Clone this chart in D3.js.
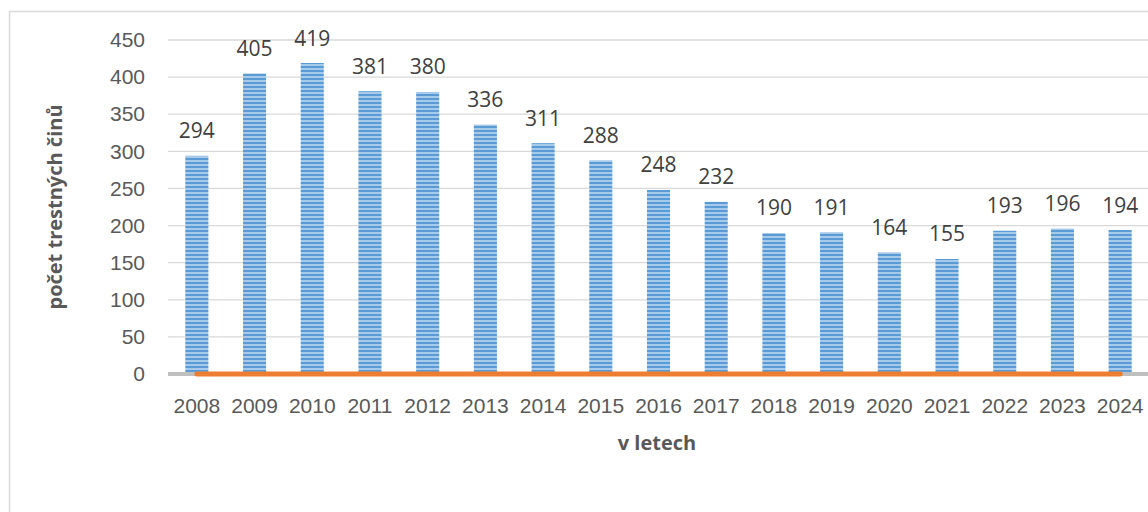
<!DOCTYPE html>
<html>
<head>
<meta charset="utf-8">
<script src="https://cdn.jsdelivr.net/npm/d3@7"></script>
<style>
  body { margin: 0; background: #fff; }
  svg { display: block; font-family: "Open Sans", sans-serif; }
</style>
</head>
<body>
<div id="chart"></div>
<script>
// data
const years = ["2008","2009","2010","2011","2012","2013","2014","2015","2016","2017","2018","2019","2020","2021","2022","2023","2024"];
const crimes = [294, 405, 419, 381, 380, 336, 311, 288, 248, 232, 190, 191, 164, 155, 193, 196, 194];
const baseline = [0,0,0,0,0,0,0,0,0,0,0,0,0,0,0,0,0];
const yTicks = [0, 50, 100, 150, 200, 250, 300, 350, 400, 450];

const W = 1148, H = 512;
const margin = { top: 40, right: -1, bottom: 138, left: 168 };
const width = W - margin.left - margin.right;
const height = H - margin.top - margin.bottom;

const svg = d3.select("#chart").append("svg")
  .attr("width", W)
  .attr("height", H);

// striped fill for bars
const defs = svg.append("defs");
const pat = defs.append("pattern")
  .attr("id", "stripes")
  .attr("patternUnits", "userSpaceOnUse")
  .attr("width", 8).attr("height", 4);
pat.append("rect").attr("width", 8).attr("height", 4).attr("fill", "#a7c9ea");
pat.append("rect").attr("y", 2).attr("width", 8).attr("height", 2).attr("fill", "#5b9bd5");

// chart border
svg.append("rect")
  .attr("x", 9.5).attr("y", 11.5)
  .attr("width", W + 10).attr("height", H + 10)
  .attr("fill", "none")
  .attr("stroke", "#d9d9d9")
  .attr("stroke-width", 1.5);

const g = svg.append("g")
  .attr("transform", "translate(" + margin.left + "," + margin.top + ")");

const x = d3.scaleBand().domain(years).range([0, width]).paddingInner(0.6).paddingOuter(0.3);
const y = d3.scaleLinear().domain([0, 450]).range([height, 0]);

// gridlines
g.append("g")
  .selectAll("line")
  .data(yTicks.filter(d => d > 0))
  .join("line")
  .attr("x1", 0).attr("x2", width)
  .attr("y1", d => y(d)).attr("y2", d => y(d))
  .attr("stroke", "#d9d9d9")
  .attr("stroke-width", 1.3);

// y axis labels
const yAxis = g.append("g")
  .call(d3.axisLeft(y).tickValues(yTicks).tickSize(0).tickPadding(23));
yAxis.select(".domain").remove();
yAxis.selectAll("text")
  .attr("fill", "#595959")
  .style("font-size", "21px");

// bars
g.append("g")
  .selectAll("rect")
  .data(crimes)
  .join("rect")
  .attr("x", (d, i) => x(years[i]))
  .attr("y", d => y(d))
  .attr("width", x.bandwidth())
  .attr("height", d => height - y(d))
  .attr("fill", "url(#stripes)");

// value labels
g.append("g")
  .selectAll("text")
  .data(crimes)
  .join("text")
  .attr("x", (d, i) => x(years[i]) + x.bandwidth() / 2)
  .attr("y", d => y(d) - 17.5)
  .attr("text-anchor", "middle")
  .attr("fill", "#404040")
  .style("font-size", "21px")
  .text(d => d);

// x axis line
g.append("line")
  .attr("x1", 0).attr("x2", width)
  .attr("y1", y(0)).attr("y2", y(0))
  .attr("stroke", "#bfbfbf")
  .attr("stroke-width", 4);

// second series drawn as line at zero
const line = d3.line()
  .x((d, i) => x(years[i]) + x.bandwidth() / 2)
  .y(d => y(d));

g.append("path")
  .datum(baseline)
  .attr("fill", "none")
  .attr("stroke", "#ed7d31")
  .attr("stroke-width", 5)
  .attr("stroke-linecap", "round")
  .attr("d", line);

// x axis labels
const xAxis = g.append("g")
  .attr("transform", "translate(0," + height + ")")
  .call(d3.axisBottom(x).tickSize(0).tickPadding(24));
xAxis.select(".domain").remove();
xAxis.selectAll("text")
  .attr("fill", "#595959")
  .style("font-size", "21px");

// axis titles
svg.append("text")
  .attr("x", 657).attr("y", 450)
  .attr("text-anchor", "middle")
  .attr("fill", "#595959")
  .style("font-size", "20px")
  .style("font-weight", "bold")
  .text("v letech");

svg.append("text")
  .attr("transform", "translate(62,207) rotate(-90)")
  .attr("text-anchor", "middle")
  .attr("fill", "#595959")
  .style("font-size", "20px")
  .style("font-weight", "bold")
  .text("počet trestných činů");
</script>
</body>
</html>
